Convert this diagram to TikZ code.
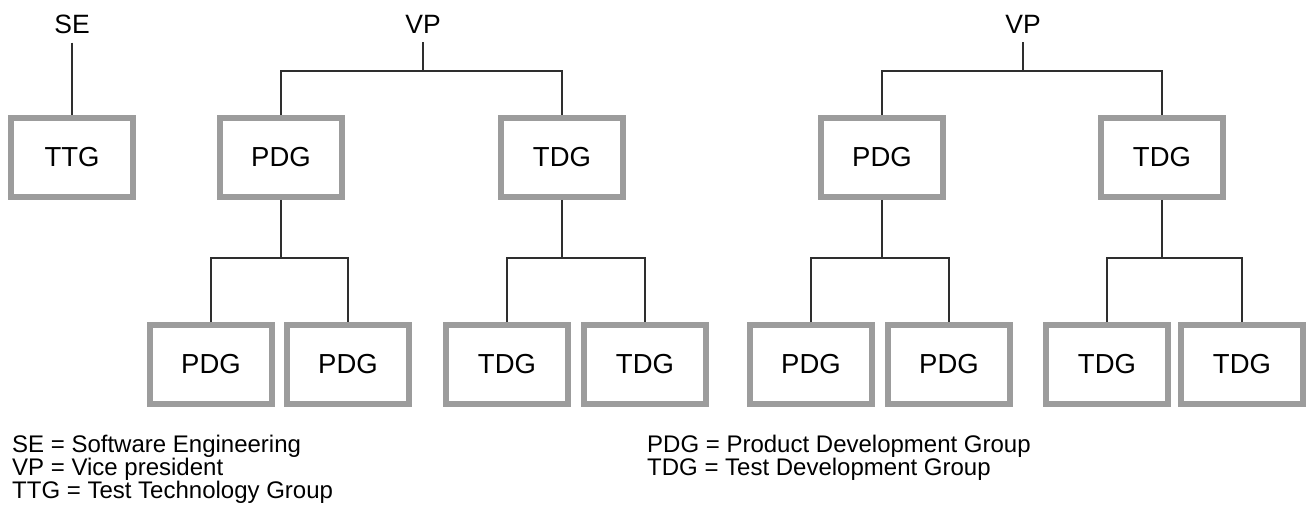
\documentclass[tikz,border=0pt]{standalone}
\usepackage{fontspec}
\setmainfont{Liberation Sans}
\definecolor{boxgrey}{HTML}{9C9C9C}
\definecolor{linegrey}{HTML}{2E2E2E}
\tikzset{
  unit/.style={draw=boxgrey, line width=6pt, fill=white, minimum width=122pt,
    minimum height=79pt, inner sep=0pt, font=\fontsize{27.5}{30}\selectfont},
  head/.style={inner sep=0pt, font=\fontsize{26.5}{30}\selectfont},
  link/.style={draw=linegrey, line width=2.8pt},
  legend/.style={anchor=base west, inner sep=0pt, font=\fontsize{24}{27}\selectfont}
}
\begin{document}
\begin{tikzpicture}[x=1pt,y=-1pt]
\useasboundingbox (0,0) rectangle (1311,513);

% Software Engineering branch
\node[head] (se) at (72,24) {SE};
\node[unit] (ttg) at (72,157.5) {TTG};
\draw[link] ([yshift=-9pt]se.south) -- (ttg.north);

% first VP tree
\node[head] (vpa) at (423,24) {VP};
\node[unit] (pdga) at (281,157.5) {PDG};
\node[unit] (tdga) at (562,157.5) {TDG};
\node[unit] (pdgaa) at (211,364.5) {PDG};
\node[unit] (pdgab) at (348,364.5) {PDG};
\node[unit] (tdgaa) at (507,364.5) {TDG};
\node[unit] (tdgab) at (645,364.5) {TDG};
\coordinate (busa) at (423,71);
\coordinate (buspa) at (281,258);
\coordinate (busta) at (562,258);
\draw[link] ([yshift=-9pt]vpa.south) -- (busa);
\draw[link] (pdga.north) |- (busa) -| (tdga.north);
\draw[link] (pdga.south) -- (buspa);
\draw[link] (pdgaa.north) |- (buspa) -| (pdgab.north);
\draw[link] (tdga.south) -- (busta);
\draw[link] (tdgaa.north) |- (busta) -| (tdgab.north);

% second VP tree
\node[head] (vpb) at (1023,24) {VP};
\node[unit] (pdgb) at (882,157.5) {PDG};
\node[unit] (tdgb) at (1162,157.5) {TDG};
\node[unit] (pdgba) at (811,364.5) {PDG};
\node[unit] (pdgbb) at (949,364.5) {PDG};
\node[unit] (tdgba) at (1107,364.5) {TDG};
\node[unit] (tdgbb) at (1242,364.5) {TDG};
\coordinate (busb) at (1023,71);
\coordinate (buspb) at (882,258);
\coordinate (bustb) at (1162,258);
\draw[link] ([yshift=-9pt]vpb.south) -- (busb);
\draw[link] (pdgb.north) |- (busb) -| (tdgb.north);
\draw[link] (pdgb.south) -- (buspb);
\draw[link] (pdgba.north) |- (buspb) -| (pdgbb.north);
\draw[link] (tdgb.south) -- (bustb);
\draw[link] (tdgba.north) |- (bustb) -| (tdgbb.north);

% key to abbreviations
\node[legend] (k1) at (12,452) {SE = Software Engineering};
\node[legend] (k2) at (12,475) {VP = Vice president};
\node[legend] (k3) at (12,498) {TTG = Test Technology Group};
\node[legend] (k4) at (647,452) {PDG = Product Development Group};
\node[legend] (k5) at (647,475) {TDG = Test Development Group};
\end{tikzpicture}
\end{document}
